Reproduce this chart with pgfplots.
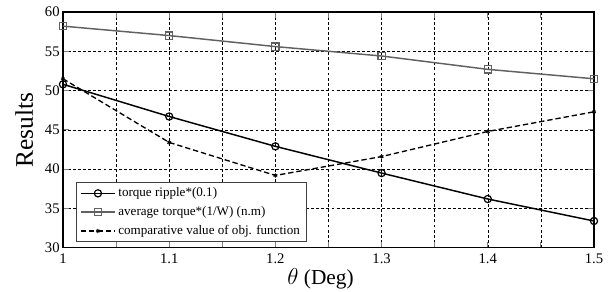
\documentclass[border=0pt]{standalone}
\usepackage{pgfplots}
\pgfplotsset{compat=1.18}
\usepackage{fontspec}
\setmainfont{Liberation Serif}
\begin{document}
\begin{tikzpicture}
\begin{axis}[
  width=398.25pt, height=176.8pt, scale only axis,
  xmin=1, xmax=1.5, ymin=30, ymax=60,
  xtick={1,1.1,1.2,1.3,1.4,1.5},
  xticklabels={1,1.1,1.2,1.3,1.4,1.5},
  minor xtick={1.05,1.15,1.25,1.35,1.45},
  ytick={30,35,...,60},
  grid=both,
  major grid style={black, dash pattern=on 2.2pt off 1.6pt, line width=0.45pt},
  minor grid style={black, dash pattern=on 2.2pt off 1.6pt, line width=0.45pt},
  tick align=inside, tick pos=both,
  major tick length=4.5pt, minor tick length=4.5pt,
  tick style={line width=0.7pt},
  axis line style={line width=1.1pt},
  tick label style={font=\fontsize{11}{12}\selectfont},
  yticklabel style={xshift=1pt},
  xticklabel style={yshift=-1pt},
  /pgf/number format/assume math mode=true,
  xlabel={$\theta$ (Deg)},
  ylabel={Results},
  every axis x label/.style={at={(rel axis cs:0.485,0)}, anchor=center, yshift=-23pt,
     font=\fontsize{16}{18}\selectfont},
  every axis y label/.style={at={(rel axis cs:0,0.5)}, xshift=-29pt, rotate=90, anchor=center,
     font=\fontsize{19}{21}\selectfont},
  legend style={at={(rel axis cs:0,0)}, anchor=south west, xshift=9.5pt, yshift=4pt,
    font=\fontsize{9.8}{11}\selectfont, draw=black!75, line width=0.7pt,
    row sep=1.8pt, inner sep=2pt, inner xsep=3pt},
  legend cell align=left,
  legend image code/.code={%
    \draw[mark repeat=2, mark phase=2] plot coordinates {(0cm,0cm) (0.45cm,0cm) (0.9cm,0cm)};},
]
\addplot[black, line width=1.1pt, mark=o, mark size=2.7pt, mark options={solid, line width=0.9pt}]
 coordinates {(1,50.8) (1.1,46.7) (1.2,42.9) (1.3,39.5) (1.4,36.2) (1.5,33.4)};
\addlegendentry{torque ripple*(0.1)}
\addplot[black!62, line width=1.1pt, mark=square, mark size=2.7pt, mark options={solid, line width=0.9pt}]
 coordinates {(1,58.2) (1.1,57.0) (1.2,55.6) (1.3,54.4) (1.4,52.7) (1.5,51.5)};
\addlegendentry{average torque*(1/W) (n.m)}
\addplot[black, line width=1pt, dash pattern=on 4pt off 2.2pt, mark=asterisk, mark size=1.6pt, mark options={solid, line width=0.7pt}]
 coordinates {(1,51.5) (1.1,43.4) (1.2,39.2) (1.3,41.6) (1.4,44.8) (1.5,47.3)};
\addlegendentry{comparative value of obj. function}
\coordinate (sw) at (rel axis cs:0,0);
\coordinate (ne) at (rel axis cs:1,1);
\end{axis}
\pgfresetboundingbox
\path[use as bounding box] ([shift={(-47.25pt,-32.5pt)}]sw) rectangle ([shift={(15pt,9pt)}]ne);
\end{tikzpicture}
\end{document}
